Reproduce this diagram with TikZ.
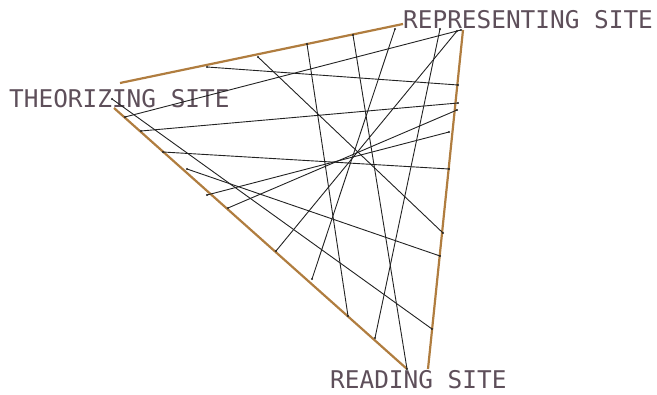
\documentclass[tikz,border=0pt]{standalone}
\usepackage{fontspec}
\setmonofont{DejaVu Sans Mono}
\usepackage{xcolor}
\usetikzlibrary{positioning}

\definecolor{siteink}{HTML}{5E4F5A}
\definecolor{edgebrown}{HTML}{B07D3F}
\definecolor{cutink}{HTML}{222222}

\begin{document}
\begin{tikzpicture}[
  x=1pt, y=-1pt,
  site/.style={font=\ttfamily\fontsize{24.4}{26}\selectfont, text=siteink, inner sep=0pt, anchor=base west},
  edge/.style={draw=edgebrown, line width=2.2pt},
  cut/.style={draw=cutink, line width=0.9pt},
  enddot/.style={circle, fill=cutink, inner sep=0pt, minimum size=2.2pt}
]
\useasboundingbox (0,0) rectangle (657,395);

% Site labels
\node[site] (theo) at (9,108)   {THEORIZING SITE};
\node[site] (repr) at (403,29)  {REPRESENTING SITE};
\node[site] (read) at (330,389) {READING SITE};

% Triangle sides
\coordinate (t1) at (120,83);
\coordinate (t2) at (403,24);
\coordinate (l1) at (114,108);
\coordinate (l2) at (407,369);
\coordinate (r1) at (463,30);
\coordinate (r2) at (428,369);
\draw[edge] (t1) -- (t2);
\draw[edge] (l1) -- (l2);
\draw[edge] (r1) -- (r2);

% End points of the cuts
\node[enddot] (a1) at (207,67)  {}; \node[enddot] (a2) at (458,85)  {};
\node[enddot] (b1) at (258,57)  {}; \node[enddot] (b2) at (443,233) {};
\node[enddot] (c1) at (307,44)  {}; \node[enddot] (c2) at (348,316) {};
\node[enddot] (d1) at (353,35)  {}; \node[enddot] (d2) at (407,369) {};
\node[enddot] (e1) at (440,29)  {}; \node[enddot] (e2) at (375,338) {};
\node[enddot] (f1) at (395,29)  {}; \node[enddot] (f2) at (312,279) {};
\node[enddot] (g1) at (457,31)  {}; \node[enddot] (g2) at (276,251) {};
\node[enddot] (h1) at (125,117) {}; \node[enddot] (h2) at (461,30)  {};
\node[enddot] (i1) at (141,131) {}; \node[enddot] (i2) at (458,103) {};
\node[enddot] (j1) at (228,208) {}; \node[enddot] (j2) at (457,110) {};
\node[enddot] (k1) at (207,195) {}; \node[enddot] (k2) at (449,132) {};
\node[enddot] (m1) at (163,152) {}; \node[enddot] (m2) at (449,169) {};
\node[enddot] (n1) at (187,169) {}; \node[enddot] (n2) at (440,256) {};
\node[enddot] (o1) at (112,99)  {}; \node[enddot] (o2) at (432,329) {};

% Cuts across the triangle
\draw[cut] (a1.center) -- (a2.center);
\draw[cut] (b1.center) -- (b2.center);
\draw[cut] (c1.center) -- (c2.center);
\draw[cut] (d1.center) -- (d2.center);
\draw[cut] (e1.center) -- (e2.center);
\draw[cut] (f1.center) -- (f2.center);
\draw[cut] (g1.center) -- (g2.center);
\draw[cut] (h1.center) -- (h2.center);
\draw[cut] (i1.center) -- (i2.center);
\draw[cut] (j1.center) -- (j2.center);
\draw[cut] (k1.center) -- (k2.center);
\draw[cut] (m1.center) -- (m2.center);
\draw[cut] (n1.center) -- (n2.center);
\draw[cut] (o1.center) -- (o2.center);

\end{tikzpicture}
\end{document}
